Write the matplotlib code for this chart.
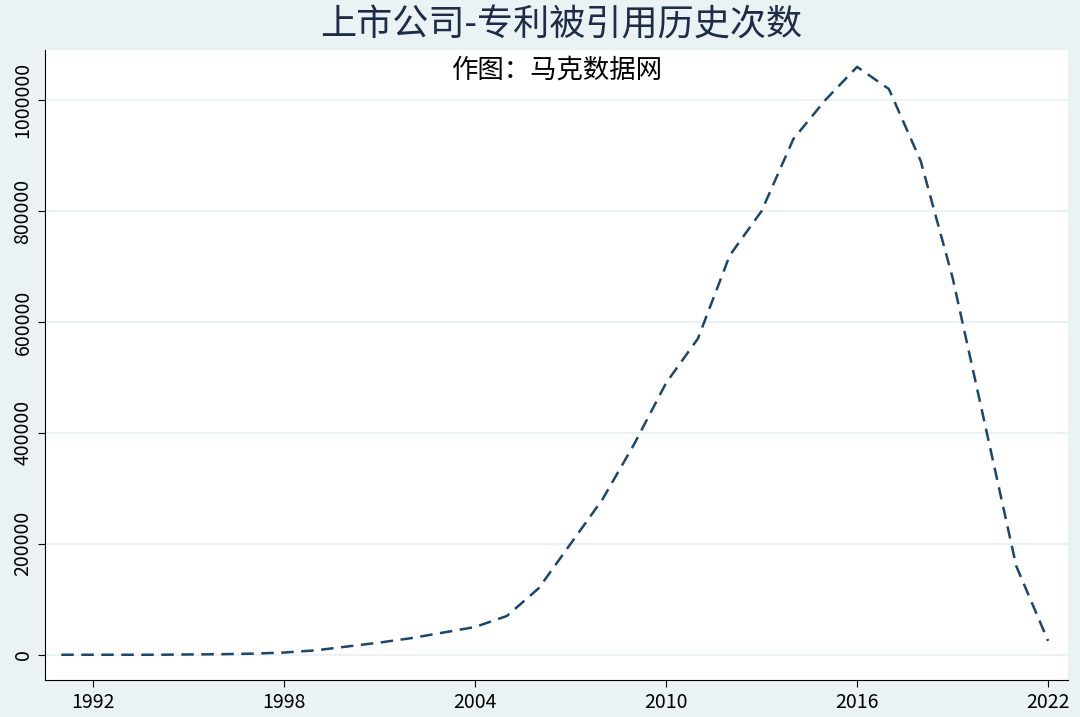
import matplotlib
matplotlib.use("Agg")
import matplotlib.pyplot as plt

years = list(range(1991, 2023))
cites = [0, 0, 0, 0, 500, 1000, 2000, 4000, 8000, 15000, 22000, 30000, 40000, 50000,
         70000, 120000, 200000, 280000, 380000, 490000, 570000, 720000, 800000,
         930000, 1000000, 1060000, 1020000, 890000, 680000, 420000, 160000, 25000]
xticks = [1992, 1998, 2004, 2010, 2016, 2022]
yticks = [0, 200000, 400000, 600000, 800000, 1000000]

plt.rcParams['font.family'] = ['Noto Sans CJK SC', 'DejaVu Sans']
fig = plt.figure(figsize=(10.8, 7.17), dpi=100, facecolor='#EAF2F3')
ax = fig.add_axes([0.042, 0.052, 0.947, 0.878])
ax.set_facecolor('white')
ax.plot(years, cites, color='#1A476F', lw=1.8, dashes=(5, 3))
ax.set_xlim(1990.5, 2022.63)
ax.set_ylim(-45000, 1090000)
ax.set_xticks(xticks)
ax.set_yticks(yticks)
ax.set_yticklabels([str(v) for v in yticks], rotation=90, va='center')
ax.tick_params(labelsize=14, colors='black', length=5)
ax.grid(axis='y', color='#EAF2F3', lw=1.5)
for s in ['top', 'right']:
    ax.spines[s].set_visible(False)
fig.text(0.52, 0.965, '上市公司-专利被引用历史次数', ha='center', va='center',
         fontsize=26, color='#1E2C48')
ax.text(0.5, 0.99, '作图：马克数据网', transform=ax.transAxes, ha='center', va='top',
        fontsize=19, color='black')
fig.savefig('out.png', dpi=100, facecolor=fig.get_facecolor())
